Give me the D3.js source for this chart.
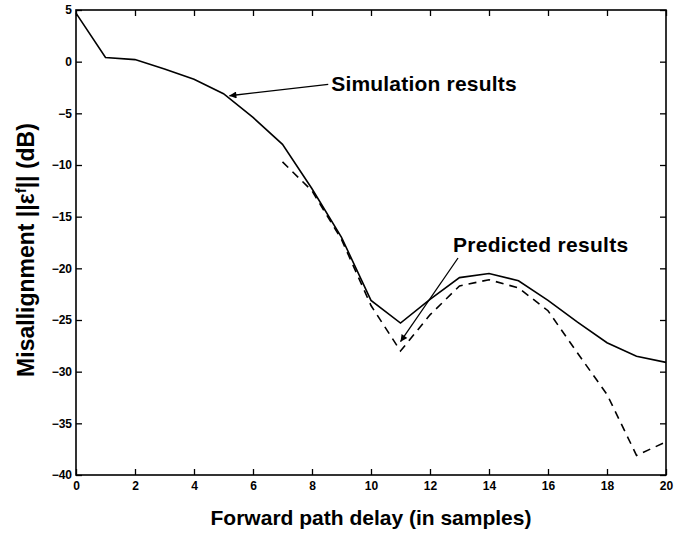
<!DOCTYPE html>
<html>
<head>
<meta charset="utf-8">
<script src="https://cdn.jsdelivr.net/npm/d3@7"></script>
<style>
  body { margin: 0; background: #fff; }
  svg { display: block; font-family: "Liberation Sans", Arial, sans-serif; }
  .tick text { font-weight: bold; font-size: 12px; }
</style>
</head>
<body>
<svg width="687" height="533"></svg>
<script>
// data
const delays = [0, 1, 2, 3, 4, 5, 6, 7, 8, 9, 10, 11, 12, 13, 14, 15, 16, 17, 18, 19, 20];
const simulated = [4.7, 0.4, 0.2, -0.7, -1.7, -3.1, -5.4, -8.0, -12.3, -17.0, -23.1, -25.3, -23.0, -20.9, -20.5, -21.2, -23.1, -25.2, -27.2, -28.5, -29.1];
const predictedDelays = [7, 8, 9, 10, 11, 12, 13, 14, 15, 16, 17, 18, 19, 20];
const predicted = [-9.7, -12.5, -17.2, -23.6, -28.0, -24.5, -21.7, -21.1, -21.9, -24.1, -28.2, -32.2, -38.1, -36.8];
const xTicks = [0, 2, 4, 6, 8, 10, 12, 14, 16, 18, 20];
const yTicks = [5, 0, -5, -10, -15, -20, -25, -30, -35, -40];

// chart dimensions
const margin = { top: 10, right: 21, bottom: 58, left: 76 };
const width = 687 - margin.left - margin.right;
const height = 533 - margin.top - margin.bottom;

const x = d3.scaleLinear().domain([0, 20]).range([0, width]);
const y = d3.scaleLinear().domain([-40, 5]).range([height, 0]);

const svg = d3.select("svg")
  .append("g")
  .attr("transform", "translate(" + margin.left + "," + margin.top + ")");

// axes (matlab style box, ticks inward)
function styleAxis(g) {
  g.select(".domain").remove();
  g.selectAll(".tick line").attr("stroke", "#000").attr("stroke-width", 1.3);
}
svg.append("g")
  .attr("transform", "translate(0," + height + ")")
  .call(d3.axisBottom(x).tickValues(xTicks).tickSize(-6).tickPadding(6).tickFormat(d3.format("d")))
  .call(styleAxis);
svg.append("g")
  .call(d3.axisTop(x).tickValues(xTicks).tickSize(-6).tickFormat(""))
  .call(styleAxis);
svg.append("g")
  .call(d3.axisLeft(y).tickValues(yTicks).tickSize(-6).tickPadding(4).tickFormat(d3.format("d")))
  .call(styleAxis);
svg.append("g")
  .attr("transform", "translate(" + width + ",0)")
  .call(d3.axisRight(y).tickValues(yTicks).tickSize(-6).tickFormat(""))
  .call(styleAxis);
svg.selectAll(".tick text").attr("fill", "#000");

svg.append("rect")
  .attr("width", width)
  .attr("height", height)
  .attr("fill", "none")
  .attr("stroke", "#000")
  .attr("stroke-width", 1.6);

// lines
const line = d3.line()
  .x(d => x(d[0]))
  .y(d => y(d[1]));

svg.append("path")
  .datum(delays.map((d, i) => [d, simulated[i]]))
  .attr("fill", "none")
  .attr("stroke", "#000")
  .attr("stroke-width", 1.6)
  .attr("d", line);

svg.append("path")
  .datum(predictedDelays.map((d, i) => [d, predicted[i]]))
  .attr("fill", "none")
  .attr("stroke", "#000")
  .attr("stroke-width", 1.6)
  .attr("stroke-dasharray", "8,6")
  .attr("d", line);

// annotations
svg.append("defs").append("marker")
  .attr("id", "head")
  .attr("viewBox", "0 0 10 10")
  .attr("refX", 10)
  .attr("refY", 5)
  .attr("markerWidth", 9)
  .attr("markerHeight", 7)
  .attr("markerUnits", "userSpaceOnUse")
  .attr("orient", "auto")
  .append("path")
  .attr("d", "M0,0L10,5L0,10z")
  .attr("fill", "#000");

function note(label, tx, ty, fromX, fromY, toX, toY) {
  svg.append("line")
    .attr("x1", x(fromX)).attr("y1", y(fromY))
    .attr("x2", x(toX)).attr("y2", y(toY))
    .attr("stroke", "#000")
    .attr("stroke-width", 1.3)
    .attr("marker-end", "url(#head)");
  svg.append("text")
    .attr("x", x(tx))
    .attr("y", y(ty))
    .attr("font-size", 21)
    .attr("font-weight", "bold")
    .attr("textLength", label.length * 10.3)
    .text(label);
}
note("Simulation results", 8.65, -2.85, 8.55, -2.2, 5.2, -3.3);
note("Predicted results", 12.78, -18.4, 12.95, -19.0, 11.0, -27.1);

// axis labels
svg.append("text")
  .attr("x", width / 2)
  .attr("y", height + 50)
  .attr("text-anchor", "middle")
  .attr("font-size", 21)
  .attr("font-weight", "bold")
  .text("Forward path delay (in samples)");

const yl = svg.append("text")
  .attr("transform", "rotate(-90)")
  .attr("x", -240)
  .attr("y", -42)
  .attr("text-anchor", "middle")
  .attr("font-size", 23)
  .attr("font-weight", "bold");
yl.append("tspan").text("Misallignment ||\u03b5");
yl.append("tspan").attr("dy", -8).attr("font-size", 15).text("f");
yl.append("tspan").attr("dy", 8).text("|| (dB)");
</script>
</body>
</html>
